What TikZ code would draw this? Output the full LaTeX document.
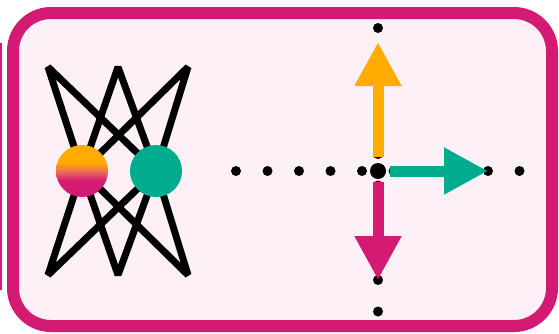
\documentclass[tikz,border=0pt]{standalone}
\usetikzlibrary{arrows.meta}
\definecolor{mag}{HTML}{D41B73}
\definecolor{org}{HTML}{FFAB00}
\definecolor{teal2}{HTML}{00AB8E}
\definecolor{bgpink}{HTML}{FDF0F6}
\definecolor{salmon}{HTML}{EE7055}
\pgfdeclareverticalshading{orgmag}{100bp}{color(0bp)=(mag); color(41bp)=(mag); color(50bp)=(salmon); color(58bp)=(org); color(100bp)=(org)}
\tikzset{
  net/.style={line width=7pt, line join=bevel, line cap=butt},
  dotsmall/.style={circle, fill=black, inner sep=0pt, minimum size=10pt},
  dotbig/.style={circle, fill=black, inner sep=0pt, minimum size=16pt},
  bigarrow/.style={line width=11pt, -{Triangle[length=44pt,width=44pt]}},
  neuron/.style={circle, inner sep=0pt, minimum size=52pt}
}
\begin{document}
\begin{tikzpicture}[x=1pt,y=-1pt]
\useasboundingbox (0,0) rectangle (559,333);
% partial neighbouring panel edge
\fill[mag] (0,43) rectangle (1.6,290);
% panel
\draw[mag, line width=12pt, fill=bgpink, rounded corners=38pt] (13,13) rectangle (552,326);
% network
\coordinate (t1) at (48,67);
\coordinate (t2) at (118,67);
\coordinate (t3) at (188,67);
\coordinate (b1) at (48,275);
\coordinate (b2) at (118,275);
\coordinate (b3) at (188,275);
\coordinate (hl) at (82,171);
\coordinate (hr) at (156,171);
\foreach \p in {t1,t2,t3,b1,b2,b3}{
  \draw[net] (hl) -- (\p) -- (hr);
}
\node[neuron, shading=orgmag] (nl) at (hl) {};
\node[neuron, fill=teal2] (nr) at (hr) {};
% dotted axes
\foreach \k in {0,...,9}{
  \node[dotsmall] (h\k) at (236+31.5*\k,171) {};
  \node[dotsmall] (v\k) at (378,28+31.5*\k) {};
}
\node[dotbig] (c) at (378,171) {};
\coordinate (up) at (378,42);
\coordinate (upb) at (378,157);
\coordinate (dn) at (378,280);
\coordinate (dnb) at (378,182);
\coordinate (rt) at (488,171);
\coordinate (rtb) at (390,171);
\draw[bigarrow, org] (upb) -- (up);
\draw[bigarrow, mag] (dnb) -- (dn);
\draw[bigarrow, teal2] (rtb) -- (rt);
\end{tikzpicture}
\end{document}
